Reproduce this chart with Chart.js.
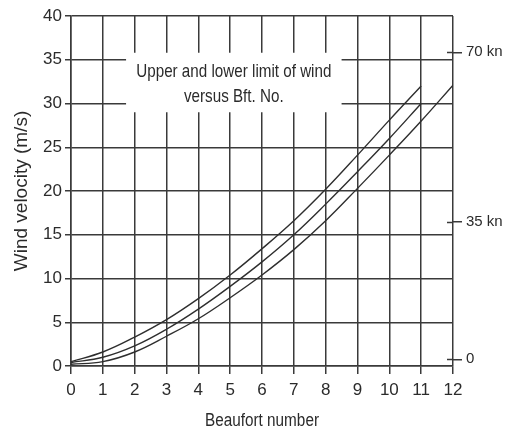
<!DOCTYPE html>
<html>
<head>
<meta charset="utf-8">
<script src="https://cdn.jsdelivr.net/npm/chart.js@4.4.1/dist/chart.umd.min.js"></script>
<style>
  html, body { margin: 0; padding: 0; background: #ffffff; }
  #wrap { width: 509px; height: 435px; position: relative; }
</style>
</head>
<body>
<div id="wrap"><canvas id="c" width="509" height="435"></canvas></div>
<script>
// ---- data ----
const beaufortTicks = [0, 1, 2, 3, 4, 5, 6, 7, 8, 9, 10, 11, 12];
const upperLimit = [0.5, 1.6, 3.3, 5.3, 7.7, 10.4, 13.4, 16.6, 20.2, 24.1, 28.1, 32.0];           // Bft 0..11
const meanSpeed  = [0.4, 1.0, 2.3, 4.2, 6.5, 9.1, 11.9, 15.0, 18.5, 22.2, 26.0, 30.0];            // Bft 0..11
const lowerLimit = [0.2, 0.5, 1.6, 3.4, 5.4, 7.8, 10.4, 13.3, 16.6, 20.3, 24.1, 28.0, 32.1];      // Bft 0..12
const velocityTicks = [0, 5, 10, 15, 20, 25, 30, 35, 40];
const knotLabels = ['0', '35 kn', '70 kn'];
const knotTickValues = [0.77, 16.5, 35.85];   // where the knot ticks sit on the m/s scale in the picture
const noteLines = ['Upper and lower limit of wind', 'versus Bft. No.'];
const xTitle = 'Beaufort number';
const yTitle = 'Wind velocity (m/s)';
const noteBox = { x0: 1.73, x1: 8.5, y0: 29.0, y1: 35.8 };

const FONT = "'Liberation Sans', Arial, sans-serif";
const INK = '#2b2b2b';
const GRID = '#3a3a3a';

function toPoints(arr) { return arr.map((v, i) => ({ x: beaufortTicks[i], y: v })); }

const lineStyle = {
  borderColor: '#2e2e2e',
  borderWidth: 1.4,
  pointRadius: 0,
  fill: false,
  tension: 0.4
};

const notePlugin = {
  id: 'note',
  beforeDatasetsDraw(chart) {
    const { ctx, scales: { x, y } } = chart;
    const l = x.getPixelForValue(noteBox.x0), r = x.getPixelForValue(noteBox.x1);
    const t = y.getPixelForValue(noteBox.y1), b = y.getPixelForValue(noteBox.y0);
    ctx.save();
    ctx.fillStyle = '#ffffff';
    ctx.fillRect(l, t, r - l, b - t);
    ctx.fillStyle = INK;
    ctx.font = "19px " + FONT;
    ctx.textAlign = 'center';
    ctx.textBaseline = 'middle';
    const cx = (l + r) / 2;
    ctx.translate(cx, 0);
    ctx.scale(0.8, 1);
    ctx.fillText(noteLines[0], 0, t + 19);
    ctx.fillText(noteLines[1], 0, t + 44);
    ctx.restore();
  },
  afterDraw(chart) {
    const { ctx, scales: { y2 }, chartArea } = chart;
    ctx.save();
    // inner stubs of the knot ticks on the right axis
    ctx.strokeStyle = GRID;
    ctx.lineWidth = 1.5;
    y2.ticks.forEach(tk => {
      const py = Math.round(y2.getPixelForValue(tk.value)) + 0.5;
      ctx.beginPath();
      ctx.moveTo(chartArea.right - 6, py);
      ctx.lineTo(chartArea.right, py);
      ctx.stroke();
    });
    // x axis title, slightly condensed like the reference lettering
    ctx.fillStyle = INK;
    ctx.font = "18px " + FONT;
    ctx.textAlign = 'center';
    ctx.textBaseline = 'middle';
    ctx.translate((chartArea.left + chartArea.right) / 2, 421);
    ctx.scale(0.85, 1);
    ctx.fillText(xTitle, 0, 0);
    ctx.restore();
  }
};

new Chart(document.getElementById('c'), {
  type: 'line',
  data: {
    datasets: [
      Object.assign({ label: 'Upper limit', data: toPoints(upperLimit) }, lineStyle),
      Object.assign({ label: 'Mean', data: toPoints(meanSpeed) }, lineStyle),
      Object.assign({ label: 'Lower limit', data: toPoints(lowerLimit) }, lineStyle)
    ]
  },
  plugins: [notePlugin],
  options: {
    responsive: false,
    animation: false,
    devicePixelRatio: 1,
    layout: { padding: { top: 16, left: 0, right: 0, bottom: 0 } },
    plugins: { legend: { display: false }, tooltip: { enabled: false } },
    scales: {
      x: {
        type: 'linear',
        min: 0, max: 12,
        afterBuildTicks: s => { s.ticks = beaufortTicks.map(v => ({ value: v })); },
        afterFit: s => { s.height = 69; },
        grid: { color: GRID, lineWidth: 1.5, tickLength: 8, tickColor: GRID },
        border: { display: true, color: GRID, width: 1.5 },
        ticks: { color: INK, font: { family: FONT, size: 17 }, padding: 6, maxRotation: 0 },
        title: { display: false }
      },
      y: {
        type: 'linear',
        position: 'left',
        min: 0, max: 40,
        afterBuildTicks: s => { s.ticks = velocityTicks.map(v => ({ value: v })); },
        afterFit: s => { s.width = 71; },
        grid: { color: GRID, lineWidth: 1.5, tickLength: 6, tickColor: GRID },
        border: { display: true, color: GRID, width: 1.5 },
        ticks: { color: INK, font: { family: FONT, size: 17 }, padding: 3 },
        title: { display: true, text: yTitle, color: INK, font: { family: FONT, size: 19 }, padding: { top: 10, bottom: 0 } }
      },
      y2: {
        type: 'linear',
        position: 'right',
        min: 0, max: 40,
        afterBuildTicks: s => { s.ticks = knotTickValues.map(v => ({ value: v })); },
        afterFit: s => { s.width = 56; },
        grid: { drawOnChartArea: false, color: GRID, lineWidth: 1.5, tickLength: 9, tickColor: GRID },
        border: { display: false },
        ticks: { color: INK, font: { family: FONT, size: 15 }, padding: 4, callback: (v, i) => knotLabels[i] }
      }
    }
  }
});
</script>
</body>
</html>
